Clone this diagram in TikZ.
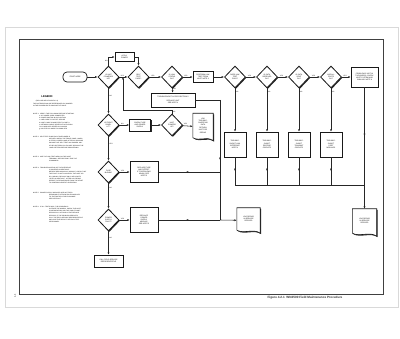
\documentclass[tikz,border=0pt]{standalone}
\usepackage{fontspec}
\setmainfont{Liberation Sans}
\usetikzlibrary{arrows.meta,shapes.geometric,shadows,decorations.markings}

\newcommand\flowfont{\fontsize{1.75}{2.15}\selectfont}
\newcommand\notefont{\fontsize{1.55}{2.2}\selectfont}

\tikzset{
  decision/.style={diamond, draw=black!90, line width=0.8pt, fill=white, minimum width=21pt, minimum height=22pt, inner sep=0pt, align=center, font=\flowfont,
    drop shadow={shadow xshift=0.9pt, shadow yshift=-0.9pt, opacity=1, fill=black!85}},
  procbox/.style={rectangle, draw=black!90, line width=0.6pt, fill=white, inner sep=0.6pt, align=center, font=\flowfont,
    drop shadow={shadow xshift=1pt, shadow yshift=-1pt, opacity=1, fill=black!85}},
  startbox/.style={rectangle, rounded corners=4pt, draw=black!90, line width=0.7pt, minimum width=24pt, minimum height=10pt, inner sep=0.5pt, font=\flowfont},
  docnode/.style={rectangle, inner sep=0.6pt, align=center, font=\flowfont},
  flow/.style={draw=black!85, line width=0.55pt, ->},
  link/.style={draw=black!85, line width=0.55pt},
  midarrow/.style={postaction={decorate}, decoration={markings, mark=at position 0.5 with {\arrow{Latex[length=2.4pt,width=2pt]}}}},
  lbl/.style={font=\fontsize{1.6}{1.9}\selectfont, inner sep=0.6pt},
  notetext/.style={anchor=north west, align=left, font=\notefont, inner sep=0pt}
}

% document symbol: name, position, width, height, text
\newcommand\docbox[5]{%
  \node[docnode, minimum width=#3, minimum height=#4] (#1) at (#2) {};
  \fill[black!85, transform canvas={shift={(1pt,-1pt)}}] ([yshift=3pt]#1.south west) -- (#1.north west) -- (#1.north east) -- (#1.south east)
    .. controls ([xshift=-7pt,yshift=5pt]#1.south east) and ([xshift=7pt,yshift=-1pt]#1.south west) .. ([yshift=3pt]#1.south west) -- cycle;
  \filldraw[fill=white, draw=black!90, line width=0.6pt] ([yshift=3pt]#1.south west) -- (#1.north west) -- (#1.north east) -- (#1.south east)
    .. controls ([xshift=-7pt,yshift=5pt]#1.south east) and ([xshift=7pt,yshift=-1pt]#1.south west) .. ([yshift=3pt]#1.south west) -- cycle;
  \node[docnode] (#1-txt) at ([yshift=1.5pt]#1.center) {#5};
}

\begin{document}
\begin{tikzpicture}[x=1pt, y=-1pt, >={Latex[length=2.4pt,width=2pt]}]
    \useasboundingbox (0,0) rectangle (400,339);
    % page and frame
    \draw[black!15, line width=1pt] (5,28) rectangle (398,308);
    \draw[black!75, line width=0.7pt] (19,39) rectangle (383,294);
    \node[rotate=90, font=\fontsize{2.2}{2.5}\selectfont\bfseries, text=black!60] (pageno) at (15,296) {4-6};
    \node[anchor=east, font=\fontsize{3.1}{3.6}\selectfont\bfseries, text=black!80] (caption) at (346,298) {Figure 4.2.1\ \ WN2500 Field Maintenance Procedure};

    % legend
    \node[font=\fontsize{2.7}{3}\selectfont\bfseries] (legend) at (47,97) {LEGEND};
    \node[font=\notefont] (legsub) at (47,100.8) {(FOR USE WITH FIGURE 4.2.1)};
    \node[notetext] (leg0) at (33,103.5) {THE NOTES BELOW ARE REFERENCED BY NUMBER\\IN THE PROCEDURE FLOWCHART AT RIGHT.};
    \node[notetext] (note1) at (33,113) {NOTE 1.\ \ VERIFY THE FOLLOWING BEFORE STARTING:\\
      \hspace*{6pt}a.\ AC POWER CORD CONNECTED\\
      \hspace*{6pt}b.\ POWER SWITCH IN ON POSITION\\
      \hspace*{6pt}c.\ LINE CORD TO OUTLET SECURE\\
      \hspace*{6pt}d.\ HOST CABLE CONNECTED TO PORT A\\
      \hspace*{6pt}e.\ NETWORK CABLE SEATED AT BOTH ENDS\\
      \hspace*{6pt}f.\ ALL MODULES SEATED IN CHASSIS\\
      \hspace*{6pt}g.\ NO STATUS LAMPS FLASHING RED};
    \node[notetext] (note2) at (33,136) {NOTE 2.\ \ SELF TEST RUNS EACH TIME POWER IS\\
      \hspace*{16pt}APPLIED. WATCH THE FRONT PANEL LAMPS;\\
      \hspace*{16pt}A STEADY GREEN LAMP AFTER 30 SECONDS\\
      \hspace*{16pt}SHOWS THAT SELF TEST HAS PASSED. ANY\\
      \hspace*{16pt}OTHER PATTERN IS A FAILURE. RECORD THE\\
      \hspace*{16pt}LAMP PATTERN BEFORE PROCEEDING.};
    \node[notetext] (note3) at (33,156) {NOTE 3.\ \ USE THE LINK TEST MENU ON THE HOST\\
      \hspace*{16pt}TERMINAL. SEE SECTION 5 FOR THE\\
      \hspace*{16pt}COMMANDS.};
    \node[notetext] (note4) at (33,167) {NOTE 4.\ \ TROUBLESHOOTING OF THE INTERFACE\\
      \hspace*{16pt}IS COVERED IN SECTION 5.\\
      \hspace*{16pt}BEFORE REPLACING ANY MODULE, CHECK THAT\\
      \hspace*{16pt}THE FAULT IS NOT CAUSED BY THE HOST OR\\
      \hspace*{16pt}BY CABLING. REPLACE ONLY WITH PARTS\\
      \hspace*{16pt}LISTED IN SECTION 7. AFTER ANY REPAIR\\
      \hspace*{16pt}REPEAT THE PROCEDURE FROM THE START\\
      \hspace*{16pt}TO CONFIRM CORRECT OPERATION.};
    \node[notetext] (note5) at (33,192) {NOTE 5.\ \ POWER SUPPLY MODULES ARE NOT FIELD\\
      \hspace*{16pt}REPAIRABLE. RETURN FAILED MODULES\\
      \hspace*{16pt}TO THE FACTORY FOR EXCHANGE.\\
      \hspace*{16pt}SEE SECTION 7.};
    \node[notetext] (note6) at (33,206) {NOTE 6.\ \ IF ALL TESTS PASS, THE PROBLEM IS\\
      \hspace*{16pt}OUTSIDE THE WN2500. CHECK THE HOST\\
      \hspace*{16pt}CONFIGURATION AND THE CABLE PLANT.\\
      \hspace*{16pt}RECORD ALL ACTIONS IN THE SERVICE\\
      \hspace*{16pt}RECORD. IF THE PROBLEM PERSISTS,\\
      \hspace*{16pt}CALL THE FIELD SERVICE REPRESENTATIVE\\
      \hspace*{16pt}AND GIVE THE RESULTS OF EACH TEST\\
      \hspace*{16pt}PERFORMED.};

    % top row
    \node[startbox] (start) at (75,77) {START HERE};
    \node[decision] (d1) at (108.5,77) {IS UNIT\\POWERED\\UP?};
    \node[procbox, minimum width=19pt, minimum height=9pt] (boxA) at (124.5,57) {APPLY\\POWER};
    \node[decision] (d2) at (138.5,77) {SELF\\TEST\\PASS?};
    \node[decision] (d3) at (172,77) {IS LINK\\STATUS\\OK?};
    \node[procbox, minimum width=20pt, minimum height=11pt] (boxB) at (203,77) {PERFORM LINK\\TEST FROM\\HOST NOTE 3};
    \node[decision] (d4) at (235,77) {DOES LINK\\TEST\\PASS?};
    \node[decision] (d5) at (267,77) {IS DATA\\RECEIVED\\OK?};
    \node[decision] (d6) at (299,77) {IS DATA\\SENT\\OK?};
    \node[decision] (d7) at (331,77) {ARE ALL\\PORTS\\OK?};
    \node[procbox, minimum width=27pt, minimum height=20pt] (boxC) at (364.5,77) {PROBLEM IS NOT IN\\THE WN2500. CHECK\\HOST SYSTEM AND\\CABLING. NOTE 6};
    \node[procbox, minimum width=44pt, minimum height=14pt] (longbox) at (173,100) {TROUBLESHOOT AS PER SECTION 5\\[1pt]REPLACE UNIT\\SEE NOTE 4};

    % boxes under the top row
    \node[procbox, minimum width=22pt, minimum height=25pt] (b4) at (235,144.5) {TROUBLE-\\SHOOT LINK\\INTERFACE\\NOTE 4};
    \node[procbox, minimum width=22pt, minimum height=25pt] (b5) at (267,144.5) {TROUBLE-\\SHOOT\\RECEIVE\\CIRCUITS};
    \node[procbox, minimum width=22pt, minimum height=25pt] (b6) at (299,144.5) {TROUBLE-\\SHOOT\\TRANSMIT\\CIRCUITS};
    \node[procbox, minimum width=22pt, minimum height=25pt] (b7) at (331,144.5) {TROUBLE-\\SHOOT\\PORT\\MODULES};

    % left column
    \node[decision] (d8) at (108.5,125) {IS FRONT\\PANEL\\LIT?};
    \node[procbox, minimum width=21pt, minimum height=12pt] (boxD) at (140,125) {CHECK FUSE\\AND POWER\\SUPPLY};
    \node[decision] (d11) at (172,125) {UNIT\\POWERS\\UP?};
    \docbox{docM}{203,127}{20pt}{27pt}{LOG\\TROUBLE-\\SHOOTING\\DATA\\[1pt]RETURN\\UNIT FOR\\REPAIR}
    \node[decision] (d9) at (108.5,172) {FUSE\\BLOWN?};
    \node[procbox, minimum width=28pt, minimum height=21pt] (boxE) at (144,172) {REPLACE FUSE\\AND RETEST.\\IF FUSE BLOWS\\AGAIN, SEE\\NOTE 5};
    \node[decision] (d10) at (108.5,220) {POWER\\SUPPLY\\FAULT?};
    \node[procbox, minimum width=28pt, minimum height=25pt] (boxF) at (144,220) {REPLACE\\POWER\\SUPPLY\\MODULE.\\SEE NOTE 5};
    \node[procbox, minimum width=29pt, minimum height=12pt] (endbox) at (108.5,261) {CALL FIELD SERVICE\\REPRESENTATIVE};
    \docbox{docM2}{248.5,220.5}{23pt}{25pt}{LOG REPAIR\\IN SERVICE\\RECORD}
    \docbox{docR}{364.5,222.5}{24pt}{27pt}{LOG REPAIR\\IN SERVICE\\RECORD}

    % joins
    \coordinate (jn) at (364.5,185);
    \coordinate (jm) at (220,220);
    \coordinate (rt) at (123,110);

    % connectors, top row
    \draw[flow] (start) -- (d1);
    \draw[flow] (d1) |- node[lbl, left, pos=0.25] {NO} (boxA);
    \draw[flow] (boxA) -| (d2);
    \draw[flow] (d1) -- node[lbl, above, pos=0.35] {YES} (d2);
    \draw[flow] (d2) -- node[lbl, above, pos=0.3] {YES} (d3);
    \draw[flow] (d3) -- node[lbl, above, pos=0.3] {YES} (boxB);
    \draw[flow] (boxB) -- (d4);
    \draw[flow] (d4) -- node[lbl, above, pos=0.35] {YES} (d5);
    \draw[flow] (d5) -- node[lbl, above, pos=0.35] {YES} (d6);
    \draw[flow] (d6) -- node[lbl, above, pos=0.35] {YES} (d7);
    \draw[flow] (d7) -- node[lbl, above, pos=0.35] {YES} (boxC);
    \draw[flow] (d3) -- node[lbl, right, pos=0.3] {NO} (longbox);
    \draw[flow] (d4) -- node[lbl, right, pos=0.08] {NO} (b4);
    \draw[flow] (d5) -- node[lbl, right, pos=0.08] {NO} (b5);
    \draw[flow] (d6) -- node[lbl, right, pos=0.08] {NO} (b6);
    \draw[flow] (d7) -- node[lbl, right, pos=0.08] {NO} (b7);

    % collecting lines to the right document
    \draw[link, midarrow] (b4) -- (b4 |- jn);
    \draw[link, midarrow] (b5) -- (b5 |- jn);
    \draw[link, midarrow] (b6) -- (b6 |- jn);
    \draw[link, midarrow] (b7) -- (b7 |- jn);
    \draw[link] (b4 |- jn) -- (jn);
    \draw[link, midarrow] (boxC) -- (jn);
    \draw[flow] (jn) -- (docR);

    % left column
    \draw[flow] (d1) -- node[lbl, right, pos=0.3] {NO} (d8);
    \draw[flow] (d8) -- node[lbl, above, pos=0.3] {NO} (boxD);
    \draw[flow] (boxD) -- (d11);
    \draw[flow] (d11) -- node[lbl, above, pos=0.3] {YES} (docM);
    \draw[link] (d11) |- node[lbl, right, pos=0.2] {NO} (rt);
    \draw[flow] (rt) -- (rt |- d1);
    \draw[flow] (d8) -- node[lbl, right, pos=0.3] {YES} (d9);
    \draw[flow] (d9) -- node[lbl, above, pos=0.3] {YES} (boxE);
    \draw[flow] (d9) -- node[lbl, right, pos=0.2] {NO} (d10);
    \draw[flow] (d10) -- node[lbl, above, pos=0.3] {YES} (boxF);
    \draw[flow] (d10) -- node[lbl, right, pos=0.3] {NO} (endbox);

    % collecting lines to the middle document
    \draw[link] (longbox) -- (longbox -| jm);
    \draw[link, midarrow] (longbox -| jm) -- (jm);
    \draw[link, midarrow] (boxE) -- (boxE -| jm);
    \draw[link, midarrow] (boxF) -- (jm);
    \draw[flow] (jm) -- (docM2);
\end{tikzpicture}
\end{document}
